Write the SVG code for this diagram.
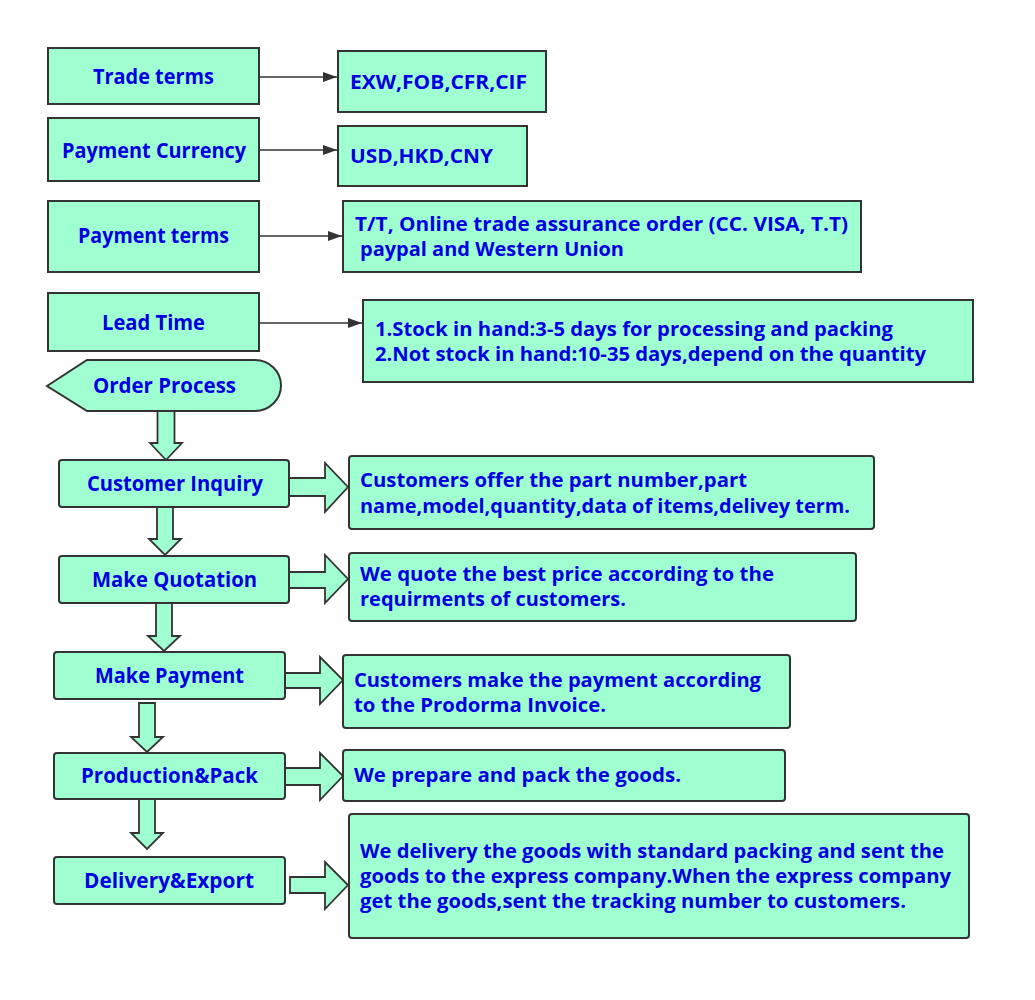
<svg xmlns="http://www.w3.org/2000/svg" width="1035" height="1000" viewBox="0 0 1035 1000">
<defs>
<style>
.bx{fill:#a0ffd0;stroke:#333333;stroke-width:2}
.t{font-family:"Open Sans","Noto Sans","DejaVu Sans",sans-serif;font-weight:bold;font-size:20px;fill:#0000e0}
.l{font-size:22px}
.ln{stroke:#333333;stroke-width:1.6;fill:none}
.ba{fill:#a0ffd0;stroke:#333333;stroke-width:1.8;stroke-linejoin:miter}
</style>
<marker id="ah" markerWidth="14" markerHeight="10" refX="14" refY="5" orient="auto" markerUnits="userSpaceOnUse">
<path d="M0,0 L14,5 L0,10 Z" fill="#333333"/>
</marker>
</defs>
<rect width="1035" height="1000" fill="#ffffff"/>

<g id="connectors">
<line class="ln" x1="259" y1="77" x2="337" y2="77" marker-end="url(#ah)"/>
<line class="ln" x1="259" y1="150" x2="337" y2="150" marker-end="url(#ah)"/>
<line class="ln" x1="259" y1="236" x2="342" y2="236" marker-end="url(#ah)"/>
<line class="ln" x1="259" y1="323" x2="362" y2="323" marker-end="url(#ah)"/>
<path class="ba" d="M157.5,411 L174.5,411 L174.5,443 L182,443 L166,460 L150,443 L157.5,443 Z"/>
<path class="ba" d="M157,507 L173,507 L173,539 L181,539 L165,555 L149,539 L157,539 Z"/>
<path class="ba" d="M156,603 L172,603 L172,636 L180,636 L164,651 L148,636 L156,636 Z"/>
<path class="ba" d="M139,703 L155,703 L155,737 L163,737 L147,752 L131,737 L139,737 Z"/>
<path class="ba" d="M139,799 L155,799 L155,833 L163,833 L147,849 L131,833 L139,833 Z"/>
<path class="ba" d="M289,478 L325,478 L325,463 L348,487 L325,512 L325,496 L289,496 Z"/>
<path class="ba" d="M289,572 L325,572 L325,555 L348,579 L325,603 L325,588 L289,588 Z"/>
<path class="ba" d="M285,673 L320,673 L320,657 L343,680 L320,704 L320,688 L285,688 Z"/>
<path class="ba" d="M285,768 L320,768 L320,753 L343,776 L320,800 L320,785 L285,785 Z"/>
<path class="ba" d="M290,877 L325,877 L325,862 L348,885 L325,909 L325,893 L290,893 Z"/>
</g>

<g id="trade-terms"><rect class="bx" x="48" y="48" width="211" height="56"/><text class="t l" x="93" y="84" textLength="121" lengthAdjust="spacingAndGlyphs">Trade terms</text></g>
<g id="trade-terms-value"><rect class="bx" x="338" y="51" width="208" height="61"/><text class="t" x="350" y="89" textLength="177" lengthAdjust="spacingAndGlyphs">EXW,FOB,CFR,CIF</text></g>

<g id="payment-currency"><rect class="bx" x="48" y="118" width="211" height="63"/><text class="t l" x="62" y="158" textLength="184" lengthAdjust="spacingAndGlyphs">Payment Currency</text></g>
<g id="payment-currency-value"><rect class="bx" x="338" y="126" width="189" height="60"/><text class="t" x="350" y="163" textLength="143" lengthAdjust="spacingAndGlyphs">USD,HKD,CNY</text></g>

<g id="payment-terms"><rect class="bx" x="48" y="201" width="211" height="71"/><text class="t l" x="78" y="243" textLength="151" lengthAdjust="spacingAndGlyphs">Payment terms</text></g>
<g id="payment-terms-value"><rect class="bx" x="343" y="201" width="518" height="71"/>
<text class="t" x="355" y="231" textLength="493" lengthAdjust="spacingAndGlyphs">T/T, Online trade assurance order (CC. VISA, T.T)</text>
<text class="t" x="360" y="256" textLength="264" lengthAdjust="spacingAndGlyphs">paypal and Western Union</text></g>

<g id="lead-time"><rect class="bx" x="48" y="293" width="211" height="58"/><text class="t l" x="102" y="330" textLength="103" lengthAdjust="spacingAndGlyphs">Lead Time</text></g>
<g id="lead-time-value"><rect class="bx" x="363" y="300" width="610" height="82"/>
<text class="t" x="375" y="336" textLength="518" lengthAdjust="spacingAndGlyphs">1.Stock in hand:3-5 days for processing and packing</text>
<text class="t" x="375" y="361" textLength="551" lengthAdjust="spacingAndGlyphs">2.Not stock in hand:10-35 days,depend on the quantity</text></g>

<g id="order-process"><path class="bx" d="M47,386 L87,360 L255,360 A26,25.5 0 0 1 255,411 L87,411 Z"/><text class="t l" x="93" y="393" textLength="143" lengthAdjust="spacingAndGlyphs">Order Process</text></g>

<g id="customer-inquiry"><rect class="bx" x="59" y="460" width="230" height="47" rx="3"/><text class="t l" x="87" y="491" textLength="176" lengthAdjust="spacingAndGlyphs">Customer Inquiry</text></g>
<g id="customer-inquiry-note"><rect class="bx" x="349" y="456" width="525" height="73" rx="3"/>
<text class="t" x="360" y="487" textLength="387" lengthAdjust="spacingAndGlyphs">Customers offer the part number,part</text>
<text class="t" x="360" y="513" textLength="490" lengthAdjust="spacingAndGlyphs">name,model,quantity,data of items,delivey term.</text></g>

<g id="make-quotation"><rect class="bx" x="59" y="556" width="230" height="47" rx="3"/><text class="t l" x="92" y="587" textLength="165" lengthAdjust="spacingAndGlyphs">Make Quotation</text></g>
<g id="make-quotation-note"><rect class="bx" x="349" y="553" width="507" height="68" rx="3"/>
<text class="t" x="360" y="581" textLength="414" lengthAdjust="spacingAndGlyphs">We quote the best price according to the</text>
<text class="t" x="360" y="606" textLength="266" lengthAdjust="spacingAndGlyphs">requirments of customers.</text></g>

<g id="make-payment"><rect class="bx" x="54" y="652" width="231" height="47" rx="3"/><text class="t l" x="95" y="683" textLength="149" lengthAdjust="spacingAndGlyphs">Make Payment</text></g>
<g id="make-payment-note"><rect class="bx" x="343" y="655" width="447" height="73" rx="3"/>
<text class="t" x="354" y="687" textLength="407" lengthAdjust="spacingAndGlyphs">Customers make the payment according</text>
<text class="t" x="354" y="712" textLength="252" lengthAdjust="spacingAndGlyphs">to the Prodorma Invoice.</text></g>

<g id="production-pack"><rect class="bx" x="54" y="753" width="231" height="46" rx="3"/><text class="t l" x="81" y="783" textLength="177" lengthAdjust="spacingAndGlyphs">Production&amp;Pack</text></g>
<g id="production-pack-note"><rect class="bx" x="343" y="750" width="442" height="51" rx="3"/>
<text class="t" x="354" y="782" textLength="327" lengthAdjust="spacingAndGlyphs">We prepare and pack the goods.</text></g>

<g id="delivery-export"><rect class="bx" x="54" y="857" width="231" height="47" rx="3"/><text class="t l" x="84" y="888" textLength="170" lengthAdjust="spacingAndGlyphs">Delivery&amp;Export</text></g>
<g id="delivery-export-note"><rect class="bx" x="349" y="814" width="620" height="124" rx="3"/>
<text class="t" x="360" y="858" textLength="584" lengthAdjust="spacingAndGlyphs">We delivery the goods with standard packing and sent the</text>
<text class="t" x="360" y="883" textLength="591" lengthAdjust="spacingAndGlyphs">goods to the express company.When the express company</text>
<text class="t" x="360" y="908" textLength="546" lengthAdjust="spacingAndGlyphs">get the goods,sent the tracking number to customers.</text></g>
</svg>
